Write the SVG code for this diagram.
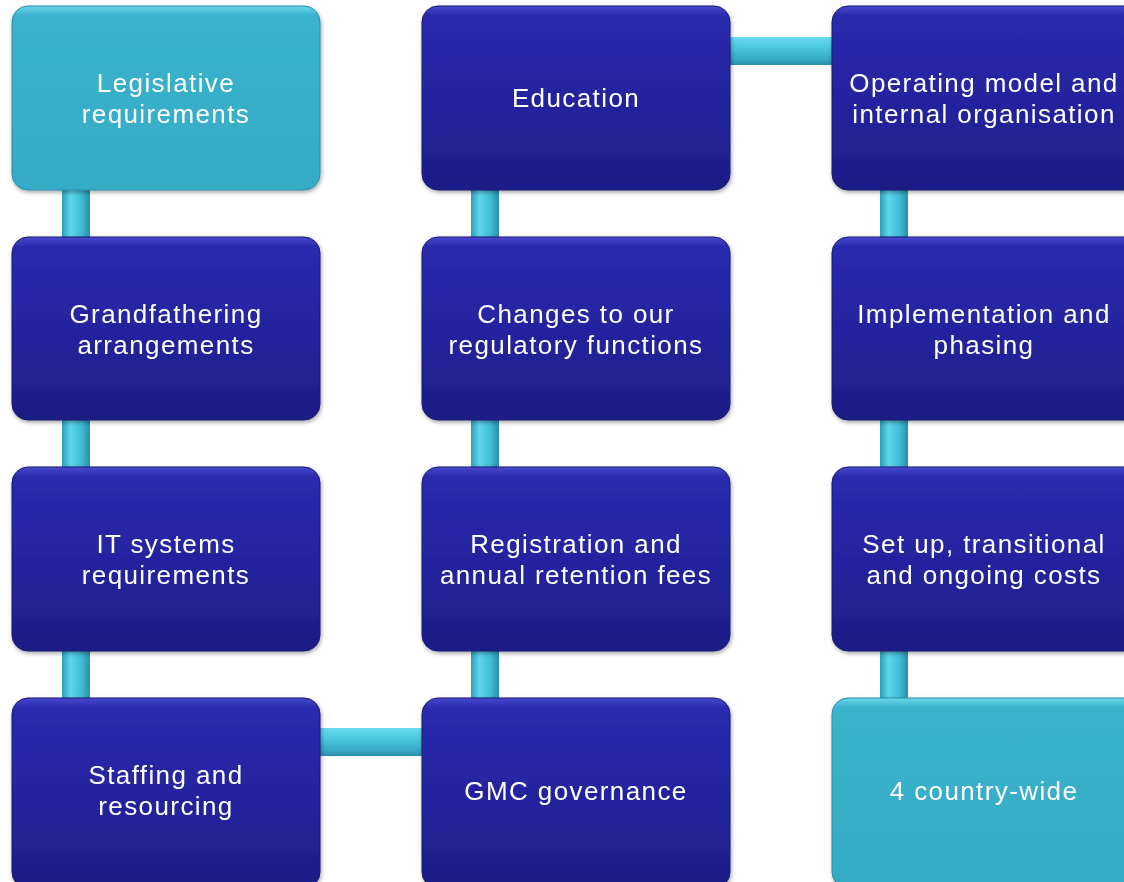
<svg xmlns="http://www.w3.org/2000/svg" width="1124" height="882" viewBox="0 0 1124 882">
<defs>
<linearGradient id="gBlue" x1="0" y1="0" x2="0" y2="1">
<stop offset="0" stop-color="#4a4ad0"/>
<stop offset="0.05" stop-color="#2a2aae"/>
<stop offset="0.5" stop-color="#2424a0"/>
<stop offset="1" stop-color="#1d1d86"/>
</linearGradient>
<linearGradient id="gCyan" x1="0" y1="0" x2="0" y2="1">
<stop offset="0" stop-color="#6ad6ea"/>
<stop offset="0.05" stop-color="#3ab3cc"/>
<stop offset="1" stop-color="#35abc6"/>
</linearGradient>
<linearGradient id="gBarV" x1="0" y1="0" x2="1" y2="0">
<stop offset="0" stop-color="#2b9fb8"/>
<stop offset="0.3" stop-color="#5fd6ec"/>
<stop offset="0.7" stop-color="#3fbdd6"/>
<stop offset="1" stop-color="#2a8ea6"/>
</linearGradient>
<linearGradient id="gBarH" x1="0" y1="0" x2="0" y2="1">
<stop offset="0" stop-color="#6adcef"/>
<stop offset="0.35" stop-color="#4cc9e0"/>
<stop offset="0.8" stop-color="#36aac4"/>
<stop offset="1" stop-color="#2a8ea6"/>
</linearGradient>
<filter id="sh" x="-10%" y="-10%" width="120%" height="120%">
<feDropShadow dx="1" dy="2" stdDeviation="2" flood-color="#000" flood-opacity="0.35"/>
</filter>
</defs>
<style>
.blue{fill:url(#gBlue);stroke:#1a1a6e;stroke-width:1}
.cyan{fill:url(#gCyan);stroke:#2a8ea6;stroke-width:1}
.bv{fill:url(#gBarV)}
.bh{fill:url(#gBarH)}
text{font-family:"Liberation Sans",Arial,sans-serif;font-size:26px;fill:#ffffff;text-anchor:middle;letter-spacing:1.4px}
</style>
<g id="connectors">
<rect class="bv" x="62" y="185" width="28" height="57"/>
<rect class="bv" x="62" y="415" width="28" height="57"/>
<rect class="bv" x="62" y="646" width="28" height="57"/>
<rect class="bv" x="471" y="185" width="28" height="57"/>
<rect class="bv" x="471" y="415" width="28" height="57"/>
<rect class="bv" x="471" y="646" width="28" height="57"/>
<rect class="bv" x="880" y="185" width="28" height="57"/>
<rect class="bv" x="880" y="415" width="28" height="57"/>
<rect class="bv" x="880" y="646" width="28" height="57"/>
<rect class="bh" x="725" y="37" width="112" height="28"/>
<rect class="bh" x="315" y="728" width="112" height="28"/>
</g>
<g id="n1" filter="url(#sh)"><rect class="cyan" x="12" y="6" width="308" height="184" rx="16"/><text x="166" y="92">Legislative</text><text x="166" y="123">requirements</text></g>
<g id="n2" filter="url(#sh)"><rect class="blue" x="12" y="237" width="308" height="183" rx="16"/><text x="166" y="323">Grandfathering</text><text x="166" y="354">arrangements</text></g>
<g id="n3" filter="url(#sh)"><rect class="blue" x="12" y="467" width="308" height="184" rx="16"/><text x="166" y="553">IT systems</text><text x="166" y="584">requirements</text></g>
<g id="n4" filter="url(#sh)"><rect class="blue" x="12" y="698" width="308" height="190" rx="16"/><text x="166" y="784">Staffing and</text><text x="166" y="815">resourcing</text></g>
<g id="n5" filter="url(#sh)"><rect class="blue" x="422" y="6" width="308" height="184" rx="16"/><text x="576" y="107">Education</text></g>
<g id="n6" filter="url(#sh)"><rect class="blue" x="422" y="237" width="308" height="183" rx="16"/><text x="576" y="323">Changes to our</text><text x="576" y="354">regulatory functions</text></g>
<g id="n7" filter="url(#sh)"><rect class="blue" x="422" y="467" width="308" height="184" rx="16"/><text x="576" y="553">Registration and</text><text x="576" y="584">annual retention fees</text></g>
<g id="n8" filter="url(#sh)"><rect class="blue" x="422" y="698" width="308" height="190" rx="16"/><text x="576" y="800">GMC governance</text></g>
<g id="n9" filter="url(#sh)"><rect class="blue" x="832" y="6" width="308" height="184" rx="16"/><text x="984" y="92">Operating model and</text><text x="984" y="123">internal organisation</text></g>
<g id="n10" filter="url(#sh)"><rect class="blue" x="832" y="237" width="308" height="183" rx="16"/><text x="984" y="323">Implementation and</text><text x="984" y="354">phasing</text></g>
<g id="n11" filter="url(#sh)"><rect class="blue" x="832" y="467" width="308" height="184" rx="16"/><text x="984" y="553">Set up, transitional</text><text x="984" y="584">and ongoing costs</text></g>
<g id="n12" filter="url(#sh)"><rect class="cyan" x="832" y="698" width="308" height="190" rx="16"/><text x="984" y="800">4 country-wide</text></g>
</svg>
